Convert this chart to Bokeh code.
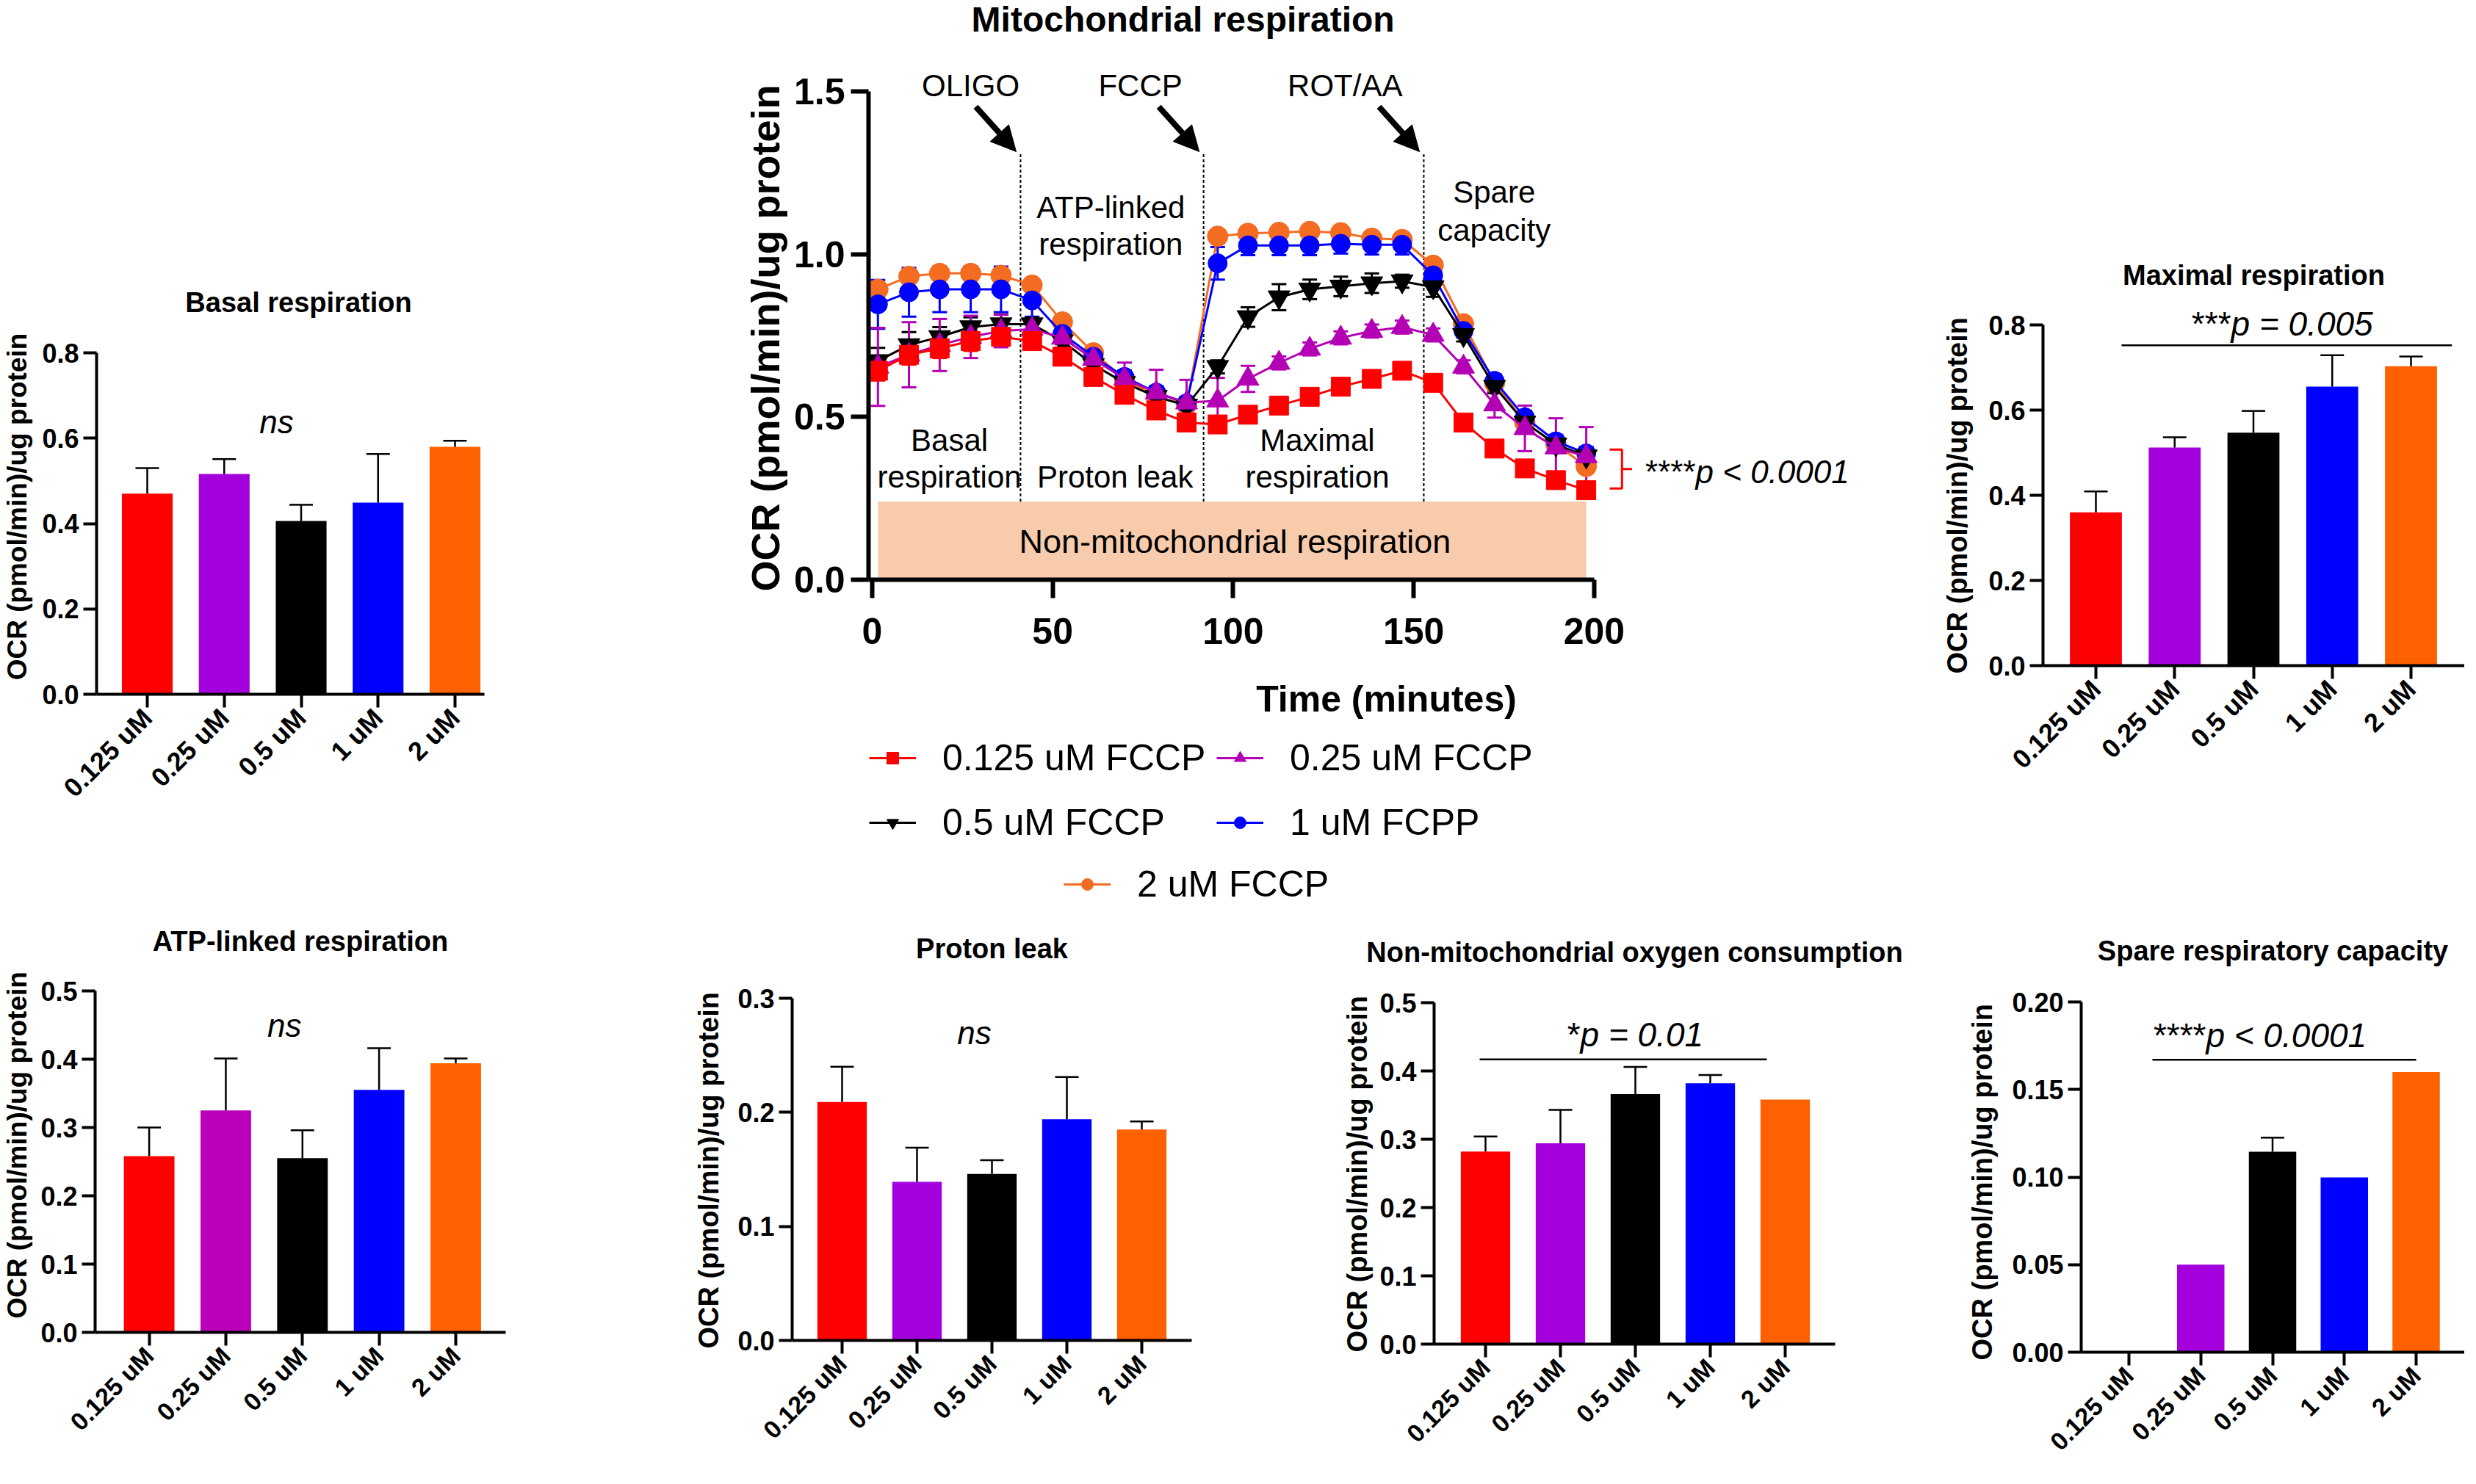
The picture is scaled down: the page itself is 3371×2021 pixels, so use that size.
import math
from bokeh.plotting import figure
from bokeh.layouts import column, row
from bokeh.models import (ColumnDataSource, Whisker, TeeHead, Arrow, NormalHead, Title,
                          Legend, LegendItem, FixedTicker, NumeralTickFormatter, Range1d)
from bokeh.core.properties import value
from bokeh.embed import file_html
from bokeh.resources import INLINE

FONT = "Liberation Sans"

# ---------------- data: bar panels ----------------
conc_labels = ["0.125 uM", "0.25 uM", "0.5 uM", "1 uM", "2 uM"]

basal_mean = [0.470, 0.516, 0.406, 0.449, 0.580]
basal_err = [0.060, 0.035, 0.038, 0.114, 0.014]
maximal_mean = [0.360, 0.512, 0.547, 0.655, 0.703]
maximal_err = [0.049, 0.024, 0.051, 0.074, 0.023]
atp_mean = [0.258, 0.325, 0.255, 0.355, 0.394]
atp_err = [0.042, 0.076, 0.041, 0.061, 0.007]
leak_mean = [0.209, 0.139, 0.146, 0.194, 0.185]
leak_err = [0.031, 0.030, 0.012, 0.037, 0.007]
nonmito_mean = [0.282, 0.294, 0.366, 0.382, 0.358]
nonmito_err = [0.022, 0.049, 0.040, 0.012, 0.0]
spare_mean = [0.0, 0.050, 0.1145, 0.0998, 0.160]
spare_err = [0.0, 0.0, 0.008, 0.0, 0.0]

basal_yticks = [0.0, 0.2, 0.4, 0.6, 0.8]
maximal_yticks = [0.0, 0.2, 0.4, 0.6, 0.8]
atp_yticks = [0.0, 0.1, 0.2, 0.3, 0.4, 0.5]
leak_yticks = [0.0, 0.1, 0.2, 0.3]
nonmito_yticks = [0.0, 0.1, 0.2, 0.3, 0.4, 0.5]
spare_yticks = [0.0, 0.05, 0.10, 0.15, 0.20]

# ---------------- data: time course ----------------
time_min = [1.6, 10.2, 18.7, 27.3, 35.7, 44.3, 52.7, 61.3, 69.9, 78.7, 87.1, 95.7,
            104.1, 112.7, 121.2, 129.8, 138.4, 146.8, 155.4, 163.8, 172.4, 180.8, 189.4, 197.8]
ocr_0125 = [0.642, 0.691, 0.711, 0.733, 0.746, 0.733, 0.685, 0.623, 0.568, 0.520, 0.483, 0.477,
            0.507, 0.535, 0.562, 0.593, 0.617, 0.642, 0.605, 0.483, 0.403, 0.342, 0.306, 0.275]
err_0125 = [0.03, 0.03, 0.03, 0.03, 0.02, 0.02, 0.02, 0.02, 0.02, 0.02, 0.02, 0.01,
            0.01, 0.01, 0.01, 0.01, 0.01, 0.02, 0.02, 0.02, 0.02, 0.02, 0.02, 0.02]
ocr_025 = [0.654, 0.691, 0.721, 0.746, 0.764, 0.770, 0.743, 0.678, 0.617, 0.575, 0.544, 0.550,
           0.617, 0.666, 0.709, 0.743, 0.764, 0.776, 0.752, 0.654, 0.538, 0.465, 0.406, 0.379]
err_025 = [0.12, 0.10, 0.08, 0.065, 0.05, 0.03, 0.02, 0.02, 0.05, 0.07, 0.07, 0.07,
           0.04, 0.02, 0.02, 0.02, 0.02, 0.02, 0.02, 0.02, 0.04, 0.07, 0.09, 0.09]
ocr_05 = [0.672, 0.721, 0.746, 0.776, 0.785, 0.785, 0.733, 0.660, 0.605, 0.562, 0.535, 0.654,
          0.807, 0.868, 0.892, 0.901, 0.911, 0.917, 0.899, 0.752, 0.593, 0.483, 0.416, 0.379]
err_05 = [0.04, 0.04, 0.03, 0.03, 0.03, 0.02, 0.02, 0.02, 0.02, 0.02, 0.02, 0.02,
          0.03, 0.04, 0.03, 0.03, 0.03, 0.02, 0.03, 0.02, 0.02, 0.02, 0.02, 0.02]
ocr_1 = [0.846, 0.883, 0.892, 0.892, 0.892, 0.858, 0.755, 0.685, 0.623, 0.575, 0.542, 0.972,
         1.027, 1.027, 1.027, 1.032, 1.029, 1.029, 0.935, 0.764, 0.611, 0.499, 0.425, 0.388]
err_1 = [0.075, 0.075, 0.07, 0.07, 0.07, 0.05, 0.03, 0.02, 0.02, 0.02, 0.02, 0.05,
         0.03, 0.03, 0.03, 0.03, 0.03, 0.03, 0.02, 0.02, 0.02, 0.02, 0.02, 0.02]
ocr_2 = [0.892, 0.932, 0.941, 0.941, 0.935, 0.905, 0.792, 0.697, 0.617, 0.562, 0.538, 1.055,
         1.064, 1.067, 1.070, 1.066, 1.049, 1.045, 0.966, 0.786, 0.605, 0.483, 0.416, 0.348]
err_2 = [0.02] * 24

injection_names = ["OLIGO", "FCCP", "ROT/AA"]
injection_times = [41.1, 91.8, 152.8]
nonmito_level = 0.24

YLABEL = "OCR (pmol/min)/ug protein"

# ---------------- helpers ----------------
def base_style(p):
    p.xgrid.visible = False
    p.ygrid.visible = False
    p.outline_line_color = None
    p.background_fill_color = "white"
    p.border_fill_color = "white"


def style_axis(ax, width, tick_out, tick_px, standoff, bold=True):
    ax.axis_line_width = width
    ax.axis_line_color = "black"
    ax.major_tick_line_width = width
    ax.major_tick_line_color = "black"
    ax.major_tick_out = tick_out
    ax.major_tick_in = 0
    ax.minor_tick_line_color = None
    ax.major_label_text_font = FONT
    ax.major_label_text_font_size = f"{tick_px}px"
    ax.major_label_text_font_style = "bold" if bold else "normal"
    ax.major_label_text_color = "black"
    ax.major_label_standoff = standoff
    ax.axis_label_text_color = "black"


def txt(p, x, y, s, size, style="normal", align="center", color="black", baseline="middle"):
    p.text(x=[x], y=[y], text=[s], text_font=value(FONT), text_font_size=f"{size}px",
           text_font_style=style, text_align=align, text_baseline=baseline, text_color=color)


def bar_panel(title, means, errs, colors, yticks, fmt, g):
    ox, oy, W, H = g["box"]
    ax_x, c0, step, ax_end = g["x"]
    y0, ppu, ftop = g["y"]
    fright = g["fright"]
    x_start = (ax_x - c0) / step
    x_end = (fright - c0) / step
    y_end = (y0 - ftop) / ppu
    p = figure(width=W, height=H, x_range=Range1d(x_start, x_end), y_range=Range1d(0, y_end),
               title=title, output_backend="svg", toolbar_location=None, frame_align=False,
               min_border_left=ax_x - ox, min_border_right=ox + W - fright,
               min_border_top=ftop - oy, min_border_bottom=oy + H - y0)
    base_style(p)
    p.title.align = "center"
    p.title.text_font = FONT
    p.title.text_font_size = "38px"
    p.title.text_font_style = "bold"
    p.title.text_color = "black"
    p.title.standoff = 4
    xs = list(range(len(conc_labels)))
    src = ColumnDataSource(dict(x=xs, top=means, color=colors))
    p.vbar(x="x", top="top", width=0.66, fill_color="color", line_color=None, source=src)
    wx = [x for x, e in zip(xs, errs) if e > 0]
    wl = [m for m, e in zip(means, errs) if e > 0]
    wu = [m + e for m, e in zip(means, errs) if e > 0]
    if wx:
        wsrc = ColumnDataSource(dict(x=wx, lower=wl, upper=wu))
        w = Whisker(base="x", lower="lower", upper="upper", source=wsrc, dimension="height",
                    line_color="black", line_width=2.5, level="overlay",
                    upper_head=TeeHead(size=32, line_width=2.5, line_color="black"),
                    lower_head=None)
        p.add_layout(w)
    style_axis(p.yaxis[0], 4, 18, 36, 6)
    style_axis(p.xaxis[0], 4, 18, g["xtick_px"], 8)
    p.yaxis.ticker = FixedTicker(ticks=yticks)
    p.yaxis.formatter = NumeralTickFormatter(format=fmt)
    p.yaxis.bounds = (0, yticks[-1])
    if g["ylab_mode"] == "title":
        # y-axis title in the left panel, running up from just below the x axis
        p.add_layout(Title(text=YLABEL, align="left", offset=-11, standoff=g["ylab_standoff"],
                           text_font=FONT, text_font_size="38px", text_font_style="bold",
                           text_color="black"), "left")
    else:
        p.yaxis.axis_label = YLABEL
        p.yaxis.axis_label_text_font = FONT
        p.yaxis.axis_label_text_font_size = "37px"
        p.yaxis.axis_label_text_font_style = "bold"
        p.yaxis.axis_label_standoff = g["ylab_standoff"]
    p.xaxis.ticker = FixedTicker(ticks=xs)
    p.xaxis.major_label_overrides = {i: lab for i, lab in enumerate(conc_labels)}
    p.xaxis.major_label_orientation = math.pi / 4
    p.xaxis.bounds = (x_start, min(x_end, (ax_end - c0) / step))
    return p


def sig(p, x_p, y_txt, stars, ptext, x0, x1, y_line):
    p.segment(x0=[x0], y0=[y_line], x1=[x1], y1=[y_line], line_color="black", line_width=2.5)
    txt(p, x_p, y_txt, stars, 46, "normal", "right")
    txt(p, x_p, y_txt, ptext, 46, "italic", "left")


bar_colors = ["#FF0000", "#A300DD", "#000000", "#0000FF", "#FF6000"]
atp_colors = ["#FF0000", "#BB00BB", "#000000", "#0000FF", "#FF6000"]

# geometry in reference-page pixels (page margin of 8 px subtracted)
M = 8
g_basal = dict(box=(0, 0, 712, 1242), x=(139 - M, 208 - M, 104.75, 667 - M),
               y=(953 - M, 581.25, 442 - M), fright=689 - M, ylab_mode="axis",
               ylab_standoff=10, xtick_px=36)
g_max = dict(box=(2592, 0, 763, 1242), x=(2789 - M, 2861 - M, 107.25, 3365 - M),
             y=(914 - M, 580.0, 405 - M), fright=3363 - M, ylab_mode="title",
             ylab_standoff=38, xtick_px=36)
g_atp = dict(box=(0, 1242, 892, 763), x=(134 - M, 208 - M, 104.9, 700 - M),
             y=(1822 - M, 930.0, 1312 - M), fright=696 - M, ylab_mode="axis",
             ylab_standoff=8, xtick_px=34)
g_leak = dict(box=(892, 1242, 880, 763), x=(1086 - M, 1154 - M, 102.0, 1632 - M),
              y=(1833 - M, 1553.33, 1322 - M), fright=1630 - M, ylab_mode="title",
              ylab_standoff=32, xtick_px=34)
g_nm = dict(box=(1772, 1242, 840, 763), x=(1960 - M, 2030 - M, 102.0, 2509 - M),
            y=(1838 - M, 930.0, 1327 - M), fright=2506 - M, ylab_mode="title",
            ylab_standoff=14, xtick_px=34)
g_spare = dict(box=(2612, 1242, 743, 763), x=(2841 - M, 2906 - M, 97.75, 3365 - M),
               y=(1849 - M, 2385.0, 1325 - M), fright=3363 - M, ylab_mode="title",
               ylab_standoff=34, xtick_px=34)

p_basal = bar_panel("Basal respiration", basal_mean, basal_err, bar_colors, basal_yticks, "0.0", g_basal)
txt(p_basal, 1.68, 0.638, "ns", 44, "italic")

p_max = bar_panel("Maximal respiration", maximal_mean, maximal_err, bar_colors, maximal_yticks, "0.0", g_max)
sig(p_max, 1.716, 0.803, "***", "p = 0.005", 0.326, 4.52, 0.752)

p_atp = bar_panel("ATP-linked respiration", atp_mean, atp_err, atp_colors, atp_yticks, "0.0", g_atp)
txt(p_atp, 1.764, 0.449, "ns", 44, "italic")

p_leak = bar_panel("Proton leak", leak_mean, leak_err, bar_colors, leak_yticks, "0.0", g_leak)
txt(p_leak, 1.765, 0.270, "ns", 44, "italic")

p_nm = bar_panel("Non-mitochondrial oxygen consumption", nonmito_mean, nonmito_err, bar_colors,
                 nonmito_yticks, "0.0", g_nm)
sig(p_nm, 1.265, 0.453, "*", "p = 0.01", -0.078, 3.755, 0.417)

p_spare = bar_panel("Spare respiratory capacity", spare_mean, spare_err, bar_colors,
                    spare_yticks, "0.00", g_spare)
sig(p_spare, 1.074, 0.181, "****", "p < 0.0001", 0.327, 4.0, 0.167)

# ---------------- main time-course chart ----------------
MAIN_H = 1000
pm = figure(width=1880, height=MAIN_H, x_range=Range1d(-1, 285.87), y_range=Range1d(0, 1.7798),
            title=None, output_backend="svg", toolbar_location=None, frame_align=False,
            min_border_left=470, min_border_right=0, min_border_top=0,
            min_border_bottom=MAIN_H - 789)
base_style(pm)

pm.quad(left=[time_min[0]], right=[time_min[-1]], bottom=[0], top=[nonmito_level],
        fill_color="#F8CBAD", line_color=None)
pm.segment(x0=injection_times, y0=[nonmito_level] * 3, x1=injection_times, y1=[1.31] * 3,
           line_color="black", line_width=2, line_dash="4 3")

series = [
    ("2 uM FCCP", ocr_2, err_2, "#F36C21", "circle", 28),
    ("1 uM FCPP", ocr_1, err_1, "#0000FF", "circle", 26),
    ("0.5 uM FCCP", ocr_05, err_05, "#000000", "inverted_triangle", 30),
    ("0.25 uM FCCP", ocr_025, err_025, "#B400B4", "triangle", 30),
    ("0.125 uM FCCP", ocr_0125, err_0125, "#FF0000", "square", 26),
]
sources = {}
for name, ys, es, col, mk, sz in series:
    src = ColumnDataSource(dict(t=time_min, y=ys, lo=[a - b for a, b in zip(ys, es)],
                                hi=[a + b for a, b in zip(ys, es)]))
    sources[name] = src
    w = Whisker(base="t", lower="lo", upper="hi", source=src, dimension="height",
                line_color=col, line_width=3, level="underlay",
                upper_head=TeeHead(size=20, line_width=3, line_color=col),
                lower_head=TeeHead(size=20, line_width=3, line_color=col))
    pm.add_layout(w)
    pm.line("t", "y", source=src, line_color=col, line_width=3)
    pm.scatter("t", "y", source=src, marker=mk, size=sz, fill_color=col, line_color=col)

for nm, t_inj, t_lab in zip(injection_names, injection_times, [27.3, 74.3, 131.0]):
    txt(pm, t_lab, 1.518, nm, 42)
    pm.add_layout(Arrow(end=NormalHead(size=34, fill_color="black", line_color="black"),
                        x_start=t_inj - 12.4, y_start=1.453, x_end=t_inj - 1.2, y_end=1.315,
                        line_width=8, line_color="black"))

for s, x, y in [("ATP-linked", 66.1, 1.144), ("respiration", 66.1, 1.031),
                ("Spare", 172.3, 1.191), ("capacity", 172.3, 1.074),
                ("Basal", 21.4, 0.429), ("respiration", 21.4, 0.316),
                ("Proton leak", 67.3, 0.316),
                ("Maximal", 123.3, 0.429), ("respiration", 123.3, 0.316)]:
    txt(pm, x, y, s, 42)
txt(pm, 100.5, 0.117, "Non-mitochondrial respiration", 45)
txt(pm, 86.1, 1.722, "Mitochondrial respiration", 48, "bold")

pm.multi_line(xs=[[204.3, 207.7, 207.7, 204.3], [207.7, 210.5]],
              ys=[[0.40, 0.40, 0.28, 0.28], [0.34, 0.34]], line_color="#FF0000", line_width=3)
txt(pm, 228.1, 0.332, "****", 44, "normal", "right")
txt(pm, 228.1, 0.332, "p < 0.0001", 44, "italic", "left")

style_axis(pm.yaxis[0], 6, 24, 50, 8)
style_axis(pm.xaxis[0], 6, 25, 50, 27)
pm.yaxis.ticker = FixedTicker(ticks=[0.0, 0.5, 1.0, 1.5])
pm.yaxis.formatter = NumeralTickFormatter(format="0.0")
pm.yaxis.bounds = (0, 1.5)
pm.xaxis.ticker = FixedTicker(ticks=[0, 50, 100, 150, 200])
pm.xaxis.bounds = (-1, 200)
pm.add_layout(Title(text=YLABEL, align="left", offset=-16, standoff=12,
                    text_font=FONT, text_font_size="54px", text_font_style="bold",
                    text_color="black"), "left")
pm.xaxis.axis_label = "Time (minutes)"
pm.xaxis.axis_label_text_font = FONT
pm.xaxis.axis_label_text_font_size = "50px"
pm.xaxis.axis_label_text_font_style = "bold"
pm.xaxis.axis_label_standoff = 44

# ---------------- legend strip under the time-course chart ----------------
LEG_H = 1242 - MAIN_H
pl = figure(width=1880, height=LEG_H, x_range=Range1d(-30, -20), y_range=Range1d(-30, -20),
            title=None, output_backend="svg", toolbar_location=None, frame_align=False,
            x_axis_location=None, y_axis_location=None,
            min_border_left=0, min_border_right=0, min_border_top=0, min_border_bottom=0)
base_style(pl)
leg_r = {}
for name, ys, es, col, mk, sz in series:
    # same series data; the strip's ranges keep them out of view, only legend glyphs show
    rl = pl.line("t", "y", source=sources[name], line_color=col, line_width=3)
    rs = pl.scatter("t", "y", source=sources[name], marker=mk, size=sz, fill_color=col, line_color=col)
    leg_r[name] = [rl, rs]

leg_common = dict(padding=0, margin=0, spacing=13, glyph_width=64, glyph_height=40,
                  label_standoff=36, label_width=360, label_text_font=FONT,
                  label_text_font_size="50px", label_text_color="black", border_line_color=None,
                  background_fill_alpha=0, orientation="horizontal")
legend_rows = [(["0.125 uM FCCP", "0.25 uM FCCP"], 471, 181),
               (["0.5 uM FCCP", "1 uM FCPP"], 471, 93),
               (["2 uM FCCP"], 736, 9)]
for labels, lx, ly in legend_rows:
    lg = Legend(items=[LegendItem(label=l, renderers=leg_r[l]) for l in labels],
                location=(lx, ly), **leg_common)
    pl.add_layout(lg)

layout = column(row(p_basal, column(pm, pl), p_max), row(p_atp, p_leak, p_nm, p_spare))
open("out.html", "w").write(file_html(layout, INLINE))
